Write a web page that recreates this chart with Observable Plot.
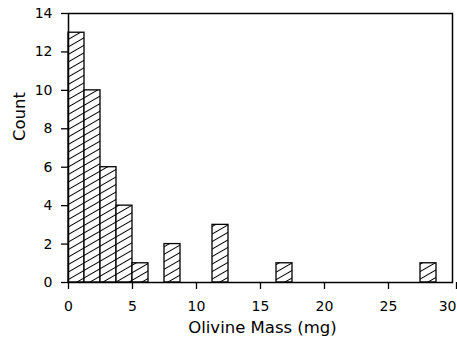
<!DOCTYPE html>
<html>
<head>
<meta charset="utf-8">
<script src="https://cdn.jsdelivr.net/npm/d3@7"></script>
<script src="https://cdn.jsdelivr.net/npm/@observablehq/plot@0.6"></script>
<style>
  html, body { margin: 0; padding: 0; background: white; }
</style>
</head>
<body>
<div id="chart"></div>
<script>
// Histogram bins (lower edges, mg) and counts
const binLower = [0, 1.25, 2.5, 3.75, 5, 7.5, 11.25, 16.25, 27.5];
const counts   = [13, 10, 6, 4, 1, 2, 3, 1, 1];
const binWidth = 1.25;
const xTicks = [0, 5, 10, 15, 20, 25, 30];
const yTicks = [0, 2, 4, 6, 8, 10, 12, 14];
const xLabel = "Olivine Mass (mg)";
const yLabel = "Count";

const data = binLower.map((b, i) => ({x1: b, x2: b + binWidth, count: counts[i]}));
const lastTick = xTicks[xTicks.length - 1];

const svg = Plot.plot({
  width: 457,
  height: 339,
  marginLeft: 68,
  marginRight: 5,
  marginTop: 13,
  marginBottom: 57,
  style: {fontFamily: "'DejaVu Sans', sans-serif", fontSize: "14px", color: "black", background: "white"},
  x: {domain: [0, 30]},
  y: {domain: [0, 14]},
  marks: [
    Plot.rectY(data, {x1: "x1", x2: "x2", y: "count", fill: "url(#hatch)", stroke: "black", strokeWidth: 1.3}),
    Plot.frame({stroke: "black", strokeWidth: 1.5}),
    Plot.axisX({ticks: xTicks.slice(0, -1), tickSize: 7, tickPadding: 12, strokeWidth: 1.3, fontSize: 14, label: null}),
    Plot.axisX({ticks: [lastTick], tickSize: 7, tickPadding: 12, strokeWidth: 1.3, fontSize: 14, label: null,
      textAnchor: "end", dx: 4}),
    Plot.axisY({ticks: yTicks, tickSize: 7, tickPadding: 9, strokeWidth: 1.3, fontSize: 14, label: null}),
    Plot.text([xLabel], {frameAnchor: "bottom", lineAnchor: "top", dy: 39, dx: 2, fontSize: 16.5, fill: "black"}),
    Plot.text([yLabel], {frameAnchor: "left", rotate: -90, dx: -49, dy: -7, fontSize: 16.5, fill: "black"})
  ]
});

const ns = "http://www.w3.org/2000/svg";
const defs = document.createElementNS(ns, "defs");
defs.innerHTML = '<pattern id="hatch" patternUnits="userSpaceOnUse" width="10" height="6.5" patternTransform="rotate(-30)">' +
  '<rect width="10" height="6.5" fill="white"/>' +
  '<line x1="0" y1="3.25" x2="10" y2="3.25" stroke="black" stroke-width="1"/></pattern>';
svg.insertBefore(defs, svg.firstChild);
document.getElementById("chart").appendChild(svg);
</script>
</body>
</html>
